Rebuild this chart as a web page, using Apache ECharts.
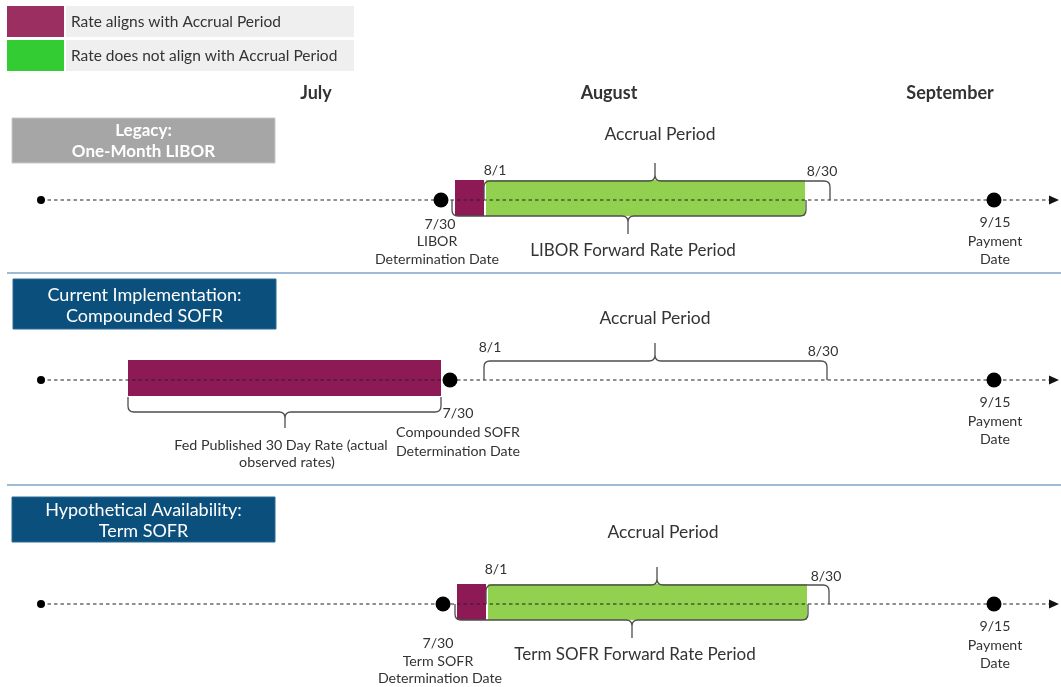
<!DOCTYPE html>
<html><head><meta charset="utf-8">
<script src="https://cdn.jsdelivr.net/npm/echarts@6/dist/echarts.min.js"></script>
<style>html,body{margin:0;padding:0;background:#fff}#c{width:1061px;height:687px}</style>
</head><body><div id="c"></div>
<script>
// ---------- content ----------
const legendItems = ['Rate aligns with Accrual Period', 'Rate does not align with Accrual Period'];
const months = ['July', 'August', 'September'];
const rowTitles = [['Legacy:', 'One-Month LIBOR'], ['Current Implementation:', 'Compounded SOFR'], ['Hypothetical Availability:', 'Term SOFR']];
const accrualLabel = 'Accrual Period';
const startDateLabel = '8/1';
const endDateLabel = '8/30';
const lowerLabels = [['LIBOR Forward Rate Period'], ['Fed Published 30 Day Rate (actual', 'observed rates)'], ['Term SOFR Forward Rate Period']];
const detLabels = [['7/30', 'LIBOR', 'Determination Date'], ['7/30', 'Compounded SOFR', 'Determination Date'], ['7/30', 'Term SOFR', 'Determination Date']];
const payLabels = ['9/15', 'Payment', 'Date'];

// ---------- schematic timeline positions (diagram units) ----------
const monthPos = [316, 609, 950];
const rowLevel = [200, 380, 604];
const timelineStart = [41, 41, 41];
const timelineEnd = [1052, 1052, 1052];
const determinationPos = [441, 450, 443];
const paymentPos = [994, 994, 994];
const alignStart = [455, 128, 457];
const alignEnd = [484, 441, 486];
const misalignStart = [486, null, 488];
const misalignEnd = [805, null, 807];
const accrualStart = [484, 484, 486];
const accrualEnd = [830, 827, 829];
const accrualTip = [655, 655, 657];
const lowerStart = [452, 128, 455];
const lowerEnd = [806, 441, 808];
const lowerTip = [628, 285, 632];

// ---------- label layout ----------
const accrualLabelPos = [[660, 134], [655, 318], [663, 532]];
const startLabelPos = [[495, 170], [490, 347], [496, 569]];
const endLabelPos = [[822, 171], [823, 351], [826, 576]];
const lowerLabelPos = [[[633, 251]], [[281, 445], [287, 462]], [[635, 655]]];
const detLabelPos = [[[440, 224], [437, 241], [437, 259]], [[458, 413], [458, 432], [458, 451]], [[438, 643], [438, 661], [440, 678]]];
const payLabelPos = [[[995, 222], [995, 241], [995, 259]], [[995, 402], [995, 421], [995, 439]], [[995, 626], [995, 645], [995, 663]]];

const FONT = 'Lato';
const TXT = '#333';
const PURPLE = '#8E1A55';
const GREEN = '#92D050';

// rects
const rectData = [];
for (let i = 0; i < 3; i++) {
  rectData.push([alignStart[i], alignEnd[i], rowLevel[i], 0]);
  if (misalignStart[i] != null) rectData.push([misalignStart[i], misalignEnd[i], rowLevel[i], 1]);
}
// braces: x1, x2, tip, level, endOff, hOff, tipOff
const braceData = [];
for (let i = 0; i < 3; i++) {
  braceData.push([accrualStart[i], accrualEnd[i], accrualTip[i], rowLevel[i], 0, -19, -37]);
  if (i === 1) braceData.push([lowerStart[i], lowerEnd[i], lowerTip[i], rowLevel[i], 17, 32, 48]);
  else braceData.push([lowerStart[i], lowerEnd[i], lowerTip[i], rowLevel[i], 0, 16, 34]);
}
// texts: x, y, text, size, weight
const textData = [];
months.forEach((m, i) => textData.push([monthPos[i], 93, m, 18, 'bold']));
for (let i = 0; i < 3; i++) {
  textData.push([accrualLabelPos[i][0], accrualLabelPos[i][1], accrualLabel, 17.5, 'normal']);
  textData.push([startLabelPos[i][0], startLabelPos[i][1], startDateLabel, 14, 'normal']);
  textData.push([endLabelPos[i][0], endLabelPos[i][1], endDateLabel, 14, 'normal']);
  lowerLabels[i].forEach((t, k) => textData.push([lowerLabelPos[i][k][0], lowerLabelPos[i][k][1], t, i === 1 ? 14.3 : 17, 'normal']));
  detLabels[i].forEach((t, k) => textData.push([detLabelPos[i][k][0], detLabelPos[i][k][1], t, 14.2, 'normal']));
  payLabels.forEach((t, k) => textData.push([payLabelPos[i][k][0], payLabelPos[i][k][1], t, 14.2, 'normal']));
}

const series = [];
series.push({
  type: 'custom', name: 'rates', z: 1, data: rectData,
  renderItem: (params, api) => {
    const a = api.coord([api.value(0), api.value(2)]);
    const b = api.coord([api.value(1), api.value(2)]);
    return { type: 'rect', shape: { x: a[0], y: a[1] - 20, width: b[0] - a[0], height: 36 },
      style: { fill: api.value(3) === 0 ? PURPLE : GREEN } };
  }
});
for (let i = 0; i < 3; i++) {
  series.push({
    type: 'line', z: 2, symbol: 'none', silent: true,
    data: [[timelineStart[i], rowLevel[i]], [timelineEnd[i], rowLevel[i]]],
    lineStyle: { color: '#222', width: 1.2, type: [3.5, 3] }
  });
}
series.push({
  type: 'scatter', z: 3, symbol: 'path://M0,0L10,5L0,10Z', symbolSize: [10, 9],
  data: timelineEnd.map((x, i) => [x + 2, rowLevel[i]]), itemStyle: { color: '#111', opacity: 1 }
});
series.push({
  type: 'custom', name: 'braces', z: 3, data: braceData,
  renderItem: (params, api) => {
    const y0 = api.value(3);
    const p1 = api.coord([api.value(0), y0]);
    const p2 = api.coord([api.value(1), y0]);
    const pm = api.coord([api.value(2), y0]);
    const yE = p1[1] + api.value(4), yH = p1[1] + api.value(5), yT = p1[1] + api.value(6);
    const s = yH > yE ? 1 : -1;
    const r = 6;
    const x1 = p1[0], x2 = p2[0], xm = pm[0];
    const d = `M${x1},${yE} L${x1},${yH - s * r} Q${x1},${yH} ${x1 + r},${yH} L${xm - r},${yH} Q${xm},${yH} ${xm},${yH + s * r} L${xm},${yT} M${xm},${yH + s * r} Q${xm},${yH} ${xm + r},${yH} L${x2 - r},${yH} Q${x2},${yH} ${x2},${yH - s * r} L${x2},${yE}`;
    return { type: 'path', shape: { pathData: d }, style: { fill: null, stroke: '#4d4d4d', lineWidth: 1.3 } };
  }
});
series.push({
  type: 'scatter', z: 4, symbolSize: 8, itemStyle: { color: '#000', opacity: 1 },
  data: timelineStart.map((x, i) => [x, rowLevel[i]])
});
series.push({
  type: 'scatter', z: 4, symbolSize: 15, itemStyle: { color: '#000', opacity: 1 },
  data: determinationPos.map((x, i) => [x, rowLevel[i]]).concat(paymentPos.map((x, i) => [x, rowLevel[i]]))
});
series.push({
  type: 'custom', name: 'labels', z: 5, data: textData.map((d, i) => [d[0], d[1], i]),
  renderItem: (params, api) => {
    const d = textData[api.value(2)];
    const p = api.coord([d[0], d[1]]);
    return { type: 'text', x: p[0], y: p[1],
      style: { text: d[2], font: `${d[4]} ${d[3]}px ${FONT}`, fill: TXT, align: 'center', verticalAlign: 'middle' } };
  }
});

// decorative graphics: legend, section headers, separators
const graphic = [];
const legendColors = ['#9B2F62', '#33CC33'];
legendItems.forEach((t, i) => {
  const y = 6 + i * 34;
  graphic.push({ type: 'rect', shape: { x: 7, y: y, width: 57, height: 31 }, style: { fill: legendColors[i] } });
  graphic.push({ type: 'rect', shape: { x: 66, y: y, width: 288, height: 31 }, style: { fill: '#EFEFEF' } });
  graphic.push({ type: 'text', x: 71, y: y + 16, style: { text: t, font: `15.5px ${FONT}`, fill: '#333', verticalAlign: 'middle' } });
});
const boxes = [[12, 118, 263, 45, '#A6A6A6', 'bold', 17, [131, 152]], [13, 279, 263, 50, '#0B4F7C', 'normal', 18, [295, 316]], [12, 497, 263, 45, '#0B4F7C', 'normal', 18, [510, 531]]];
boxes.forEach((b, i) => {
  graphic.push({ type: 'rect', shape: { x: b[0], y: b[1], width: b[2], height: b[3] }, style: { fill: b[4], stroke: i === 0 ? '#c8c8c8' : '#2a6a95', lineWidth: 1 } });
  rowTitles[i].forEach((t, k) => graphic.push({ type: 'text', x: b[0] + b[2] / 2, y: b[7][k], style: { text: t, font: `${b[5]} ${b[6]}px ${FONT}`, fill: '#fff', align: 'center', verticalAlign: 'middle' } }));
});
[273, 485].forEach(y => graphic.push({ type: 'line', shape: { x1: 7, y1: y, x2: 1061, y2: y }, style: { stroke: '#7FA3C6', lineWidth: 1.5 } }));

const chart = echarts.init(document.getElementById('c'));
chart.setOption({
  animation: false,
  backgroundColor: '#fff',
  grid: { left: 0, right: 0, top: 0, bottom: 0 },
  xAxis: { type: 'value', min: 0, max: 1061, show: false },
  yAxis: { type: 'value', min: 0, max: 687, inverse: true, show: false },
  series: series,
  graphic: graphic
});
</script></body></html>
